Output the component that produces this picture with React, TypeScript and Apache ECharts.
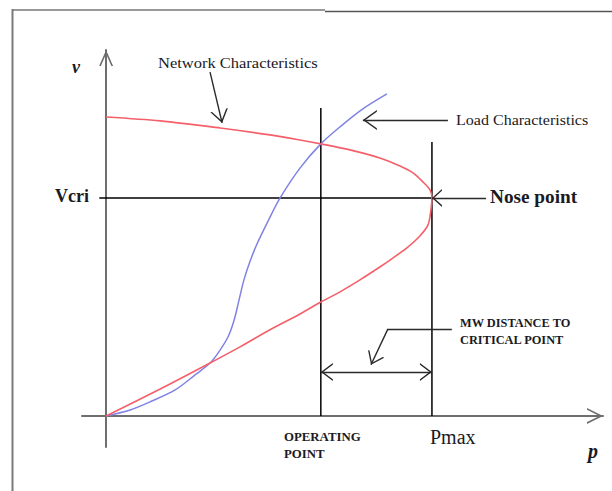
import React, { useEffect, useRef } from "react";
import * as echarts from "echarts";

// Key operating quantities (p in per-unit of Pmax, v in per-unit of no-load voltage)
const P_OP = 0.659;
const P_MAX = 1.0;
const V_CRI = 0.729;

// Network characteristic (P–V nose curve): upper branch, nose, lower branch
const networkP = [
  0, 0.166, 0.35, 0.503, 0.595, 0.659, 0.748, 0.84, 0.902, 0.942, 0.972, 0.994, 1.0,
  0.997, 0.988, 0.963, 0.923, 0.88, 0.84, 0.779, 0.718, 0.659, 0.595, 0.503, 0.411, 0.319, 0.166, 0,
];
const networkV = [
  1.0, 0.987, 0.963, 0.94, 0.923, 0.91, 0.89, 0.863, 0.836, 0.813, 0.783, 0.756, 0.729,
  0.69, 0.639, 0.602, 0.562, 0.528, 0.498, 0.455, 0.415, 0.381, 0.341, 0.288, 0.231, 0.177, 0.09, 0,
];

// Load characteristic
const loadP = [
  0, 0.074, 0.135, 0.212, 0.273, 0.319, 0.344, 0.374, 0.393, 0.408, 0.423, 0.442, 0.463,
  0.494, 0.534, 0.595, 0.659, 0.718, 0.788, 0.862,
];
const loadV = [
  0, 0.02, 0.047, 0.087, 0.137, 0.177, 0.211, 0.264, 0.321, 0.388, 0.455, 0.518, 0.575,
  0.645, 0.729, 0.829, 0.91, 0.967, 1.027, 1.077,
];

// Axis ranges
const X_MIN = -0.074;
const X_MAX = 1.525;
const Y_MIN = -0.104;
const Y_MAX = 1.224;

// Open chevron arrow head; the tip sits at the centre of the symbol box
function chevron(w: number, L: number, t = 1.4): string {
  const tt = (t * Math.hypot(w, L)) / L;
  const d = (L * tt) / w;
  return `path://M${w},0 M${w},${L} L${2 * w},${2 * L} L${2 * w - tt},${2 * L} L${w},${L + d} L${tt},${2 * L} L0,${2 * L} Z`;
}

const SERIF = '"Liberation Serif", "Times New Roman", serif';
const INK = "#1a1a24";
const AXIS = "#6e6e6e";
const ANNOT = "#2a2a2a";

function arrow(
  from: [number, number],
  to: [number, number],
  w: number,
  L: number,
  both = false
) {
  const head = chevron(w, L);
  return {
    type: "lines",
    coordinateSystem: "cartesian2d",
    symbol: [both ? head : "none", head],
    symbolSize: [
      [2 * w, 2 * L],
      [2 * w, 2 * L],
    ],
    lineStyle: { color: ANNOT, width: 1.4, opacity: 1 },
    data: [{ coords: [from, to] }],
    z: 5,
  };
}

function guide(points: [number, number][]) {
  return {
    type: "line",
    data: points,
    symbol: "none",
    lineStyle: { color: "#000", width: 1.5 },
    z: 2,
  };
}

function label(text: string, x: number, y: number, font: string, scaleX = 1) {
  return {
    type: "text",
    x,
    y,
    scaleX,
    z: 10,
    style: {
      text,
      font,
      fill: INK,
      textAlign: "left",
      textVerticalAlign: "middle",
    },
  };
}

export default function App() {
  const ref = useRef<HTMLDivElement>(null);

  useEffect(() => {
    if (!ref.current) return;
    const chart = echarts.init(ref.current, null, { renderer: "svg" });

    chart.setOption({
      animation: false,
      backgroundColor: "#ffffff",
      grid: { left: 82, right: 9, top: 50, bottom: 44, outerBoundsMode: "none" },
      xAxis: {
        type: "value",
        min: X_MIN,
        max: X_MAX,
        axisLine: {
          show: true,
          onZero: true,
          symbol: ["none", chevron(8, 16, 1.6)],
          symbolSize: [16, 32],
          lineStyle: { color: AXIS, width: 2 },
        },
        axisTick: { show: false },
        axisLabel: { show: false },
        splitLine: { show: false },
      },
      yAxis: {
        type: "value",
        min: Y_MIN,
        max: Y_MAX,
        axisLine: {
          show: true,
          onZero: true,
          symbol: ["none", chevron(7, 16, 1.6)],
          symbolSize: [14, 32],
          lineStyle: { color: AXIS, width: 2 },
        },
        axisTick: { show: false },
        axisLabel: { show: false },
        splitLine: { show: false },
      },
      series: [
        guide([
          [P_OP, 0],
          [P_OP, 1.03],
        ]),
        guide([
          [P_MAX, 0],
          [P_MAX, 0.916],
        ]),
        guide([
          [-0.021, V_CRI],
          [P_MAX, V_CRI],
        ]),
        {
          type: "line",
          name: "Load Characteristics",
          data: loadP.map((p, i) => [p, loadV[i]]),
          smooth: 0.3,
          symbol: "none",
          lineStyle: { color: "#7e83e4", width: 1.5 },
          z: 3,
        },
        {
          type: "line",
          name: "Network Characteristics",
          data: networkP.map((p, i) => [p, networkV[i]]),
          smooth: 0.3,
          symbol: "none",
          lineStyle: { color: "#f4606a", width: 1.6 },
          z: 4,
        },
        // Nose point pointer
        arrow([1.166, V_CRI], [P_MAX, V_CRI], 9, 10),
        // Load characteristics pointer
        arrow([1.049, 0.99], [0.788, 0.99], 10, 14),
        // Network characteristics pointer
        arrow([0.319, 1.15], [0.356, 0.98], 9, 13),
        // MW distance callout
        {
          type: "lines",
          coordinateSystem: "cartesian2d",
          lineStyle: { color: ANNOT, width: 1.4, opacity: 1 },
          data: [
            {
              coords: [
                [1.061, 0.291],
                [0.865, 0.291],
              ],
            },
          ],
          z: 5,
        },
        arrow([0.865, 0.291], [0.813, 0.171], 9, 12),
        // MW distance span between operating point and Pmax
        arrow([P_OP, 0.147], [P_MAX, 0.147], 9, 12, true),
      ],
      graphic: [
        // page frame
        { type: "line", shape: { x1: 12.5, y1: 9, x2: 12.5, y2: 491 }, style: { stroke: "#7a7a7a", lineWidth: 2 } },
        { type: "line", shape: { x1: 12, y1: 10, x2: 325, y2: 10 }, style: { stroke: "#777", lineWidth: 1.5 } },
        { type: "line", shape: { x1: 325, y1: 11.5, x2: 612, y2: 11.5 }, style: { stroke: "#555", lineWidth: 1.5 } },

        label("v", 72, 67, `italic bold 18px ${SERIF}`),
        label("Network Characteristics", 158, 63, `15px ${SERIF}`, 1.1),
        label("Load Characteristics", 456, 120, `15px ${SERIF}`, 1.07),
        label("Vcri", 55, 196, `bold 18px ${SERIF}`),
        label("Nose point", 490, 197, `bold 18px ${SERIF}`, 1.07),
        label("MW DISTANCE TO", 460, 323, `bold 12px ${SERIF}`, 1.03),
        label("CRITICAL POINT", 460, 340, `bold 12px ${SERIF}`, 1.03),
        label("OPERATING", 284, 437, `bold 12px ${SERIF}`, 1.07),
        label("POINT", 284, 454, `bold 12px ${SERIF}`, 1.07),
        label("Pmax", 430, 437, `20px ${SERIF}`),
        label("p", 588, 451, `italic bold 20px ${SERIF}`),
      ],
    });

    return () => chart.dispose();
  }, []);

  return (
    <div
      ref={ref}
      style={{ position: "absolute", left: 0, top: 0, width: 612, height: 491 }}
    />
  );
}
